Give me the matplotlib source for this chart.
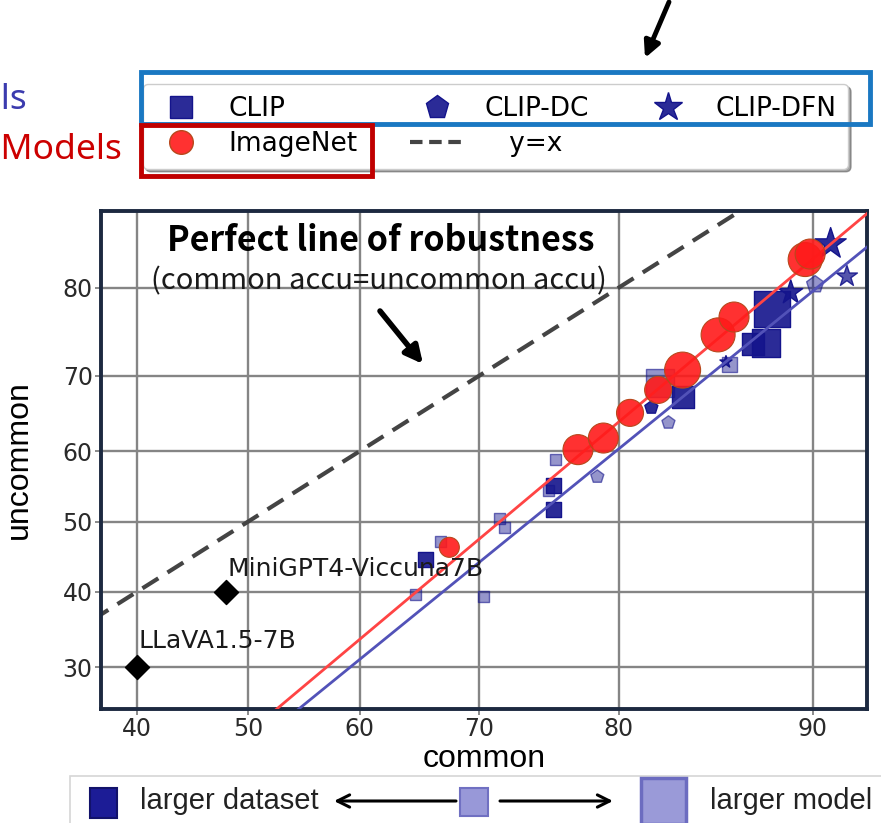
import math
import numpy as np
import matplotlib
matplotlib.use('Agg')
import matplotlib.pyplot as plt
from matplotlib.colors import to_rgba
from matplotlib.lines import Line2D
from matplotlib.patches import Rectangle

# accuracies (%) on common vs uncommon samples
llm_names = ['LLaVA1.5-7B', 'MiniGPT4-Viccuna7B']
llm_common = [40, 48]
llm_uncommon = [30, 40]

clip_common = [65.6, 66.9, 64.8, 70.3, 71.6, 72.0, 75.7, 75.6, 75.6, 75.2, 82.5, 83.8, 86.3, 87.4, 88.0, 88.3]
clip_uncommon = [44.5, 47.1, 39.6, 39.3, 50.5, 49.2, 58.8, 55.2, 51.7, 54.5, 69.1, 67.3, 71.4, 73.9, 74.0, 77.8]
clip_model = [2, 1, 1, 1, 1, 1, 1, 2, 2, 1, 4, 3, 2, 3, 4, 5]
clip_data = [2, 0, 0, 0, 0, 0, 0, 2, 2, 0, 0, 2, 0, 2, 2, 2]

dc_common = [78.6, 82.0, 83.0, 90.1]
dc_uncommon = [56.4, 65.9, 63.9, 80.3]
dc_model = [1, 1, 1, 2]
dc_data = [0, 2, 0, 0]

dfn_common = [90.7, 91.3, 89.1, 86.1]
dfn_uncommon = [84.1, 81.1, 79.5, 71.7]
dfn_model = [4, 2, 3, 1]
dfn_data = [2, 1, 2, 2]

inet_common = [67.6, 77.3, 79.0, 80.7, 82.4, 83.8, 85.7, 86.5, 89.7, 89.9]
inet_uncommon = [46.3, 60.2, 61.8, 65.2, 68.2, 70.7, 74.9, 76.9, 82.7, 83.2]
inet_model = [1, 3, 3, 2, 2, 5, 4, 3, 4, 3]

# linear fits in probit space: (slope, intercept)
inet_fit = (1.3295, -0.7603)
clip_fit = (1.2876, -0.822)

ticks = [40, 50, 60, 70, 80, 90]
yticks = [30, 40, 50, 60, 70, 80]

# probit axis transform
_z = np.linspace(-6, 6, 6001)
_p = np.array([0.5 * (1 + math.erf(v / math.sqrt(2))) for v in _z])


def probit(pct):
    return np.interp(np.asarray(pct, dtype=float) / 100.0, _p, _z)


def inv_probit(z):
    return 100.0 * np.interp(np.asarray(z, dtype=float), _z, _p)


NAVY = '#14148c'
RED = '#ff1a1a'
shade = {0: 0.45, 1: 0.72, 2: 0.9}
square_px = {1: 11, 2: 15, 3: 22, 4: 28, 5: 36}
pent_px = {1: 13, 2: 17}
star_px = {1: 12, 2: 21, 3: 24, 4: 31}
circle_px = {1: 20, 2: 27, 3: 30, 4: 34, 5: 36}


def area(levels, table, k=1.0):
    return [(table[v] * 0.72 / k) ** 2 for v in levels]


def navy(levels):
    face = [to_rgba(NAVY, shade[v]) for v in levels]
    edge = [to_rgba(NAVY, min(1.0, shade[v] + 0.15)) for v in levels]
    return face, edge


fig = plt.figure(figsize=(8.81, 8.23), dpi=100)
ax = fig.add_axes([101 / 881, 1 - 709 / 823, 766 / 881, 498 / 823])
ax.set_xscale('function', functions=(probit, inv_probit))
ax.set_yscale('function', functions=(probit, inv_probit))
ax.set_xlim(36.9, 92.0)
ax.set_ylim(25.0, 86.8)
ax.set_xticks(ticks)
ax.set_yticks(yticks)
ax.set_xticks([], minor=True)
ax.set_yticks([], minor=True)
ax.tick_params(labelsize=17, length=4, width=1.2, color='#777777', labelcolor='#2a2a2a', pad=2)
ax.set_axisbelow(True)
ax.grid(True, color='#858585', lw=1.7)
for s in ax.spines.values():
    s.set_color('#1c2940')
    s.set_linewidth(2.8)

xs = np.linspace(30, 95, 200)
ax.plot(xs, xs, color='#444444', lw=3, ls=(0, (4.5, 2.6)), zorder=2.5)
ax.plot(xs, inv_probit(inet_fit[0] * probit(xs) + inet_fit[1]), color='#ff4444', lw=2, zorder=3)
ax.plot(xs, inv_probit(clip_fit[0] * probit(xs) + clip_fit[1]), color='#5252b8', lw=2, zorder=3)

fc, ec = navy(clip_data)
ax.scatter(clip_common, clip_uncommon, s=area(clip_model, square_px), marker='s', c=fc, edgecolors=ec, lw=1, zorder=2)
fc, ec = navy(dc_data)
ax.scatter(dc_common, dc_uncommon, s=area(dc_model, pent_px, 0.95), marker='p', c=fc, edgecolors=ec, lw=1, zorder=2.2)
fc, ec = navy(dfn_data)
ax.scatter(dfn_common, dfn_uncommon, s=area(dfn_model, star_px, 0.95), marker='*', c=fc, edgecolors=ec, lw=1, zorder=2.3)
ax.scatter(inet_common, inet_uncommon, s=area(inet_model, circle_px), marker='o', c=[to_rgba(RED, 0.9)],
           edgecolors='#b8481c', lw=0.8, zorder=4)

ax.scatter(llm_common, llm_uncommon, s=150, marker='D', c='black', zorder=5)
for name, x, y, dy in zip(llm_names, llm_common, llm_uncommon, [10, 8]):
    ax.annotate(name, (x, y), xytext=(1, dy), textcoords='offset points', fontsize=18, color='#1a1a1a',
                ha='left', va='bottom', zorder=6)

ax.set_xlabel('common', fontsize=23, family='Liberation Sans')
ax.set_ylabel('uncommon', fontsize=23, family='Liberation Sans')
ax.xaxis.set_label_coords(0.5, -0.07)
ax.yaxis.set_label_coords(-0.087, 0.5)

# model legend
handles = [
    Line2D([], [], ls='none', marker='s', ms=16, mfc=to_rgba(NAVY, 0.9), mec=NAVY),
    Line2D([], [], ls='none', marker='o', ms=17, mfc=to_rgba(RED, 0.9), mec='#b8481c'),
    Line2D([], [], ls='none', marker='p', ms=17, mfc=to_rgba(NAVY, 0.9), mec=NAVY),
    Line2D([], [], color='#444444', lw=3, ls=(0, (3, 1.6))),
    Line2D([], [], ls='none', marker='*', ms=21, mfc=to_rgba(NAVY, 0.9), mec=NAVY),
]
labels = ['CLIP', 'ImageNet', 'CLIP-DC', '   y=x', 'CLIP-DFN']
fig.legend(handles, labels, ncol=3, loc='center', bbox_to_anchor=(495.5 / 881, 1 - 126.5 / 823),
           fontsize=19, fancybox=True, shadow=True, columnspacing=2.0, handletextpad=0.8,
           handlelength=2.0, borderpad=0.45, labelspacing=0.35, edgecolor='#cccccc')

# overlay in pixel coordinates for callouts and the size key
ov = fig.add_axes([0, 0, 1, 1])
ov.set_xlim(0, 881)
ov.set_ylim(823, 0)
ov.axis('off')
ov.set_zorder(10)

ov.text(27, 100, 'CLIP Models', ha='right', va='center', fontsize=25.5, family='Noto Sans', color='#3b3bae')
ov.text(122, 150, 'ImageNet Models', ha='right', va='center', fontsize=25.5, family='Noto Sans', color='#cc0000')
ov.add_patch(Rectangle((141, 72), 729, 52, fill=False, ec='#1a78c2', lw=3.5))
ov.add_patch(Rectangle((141, 125), 231, 51, fill=False, ec='#c00000', lw=3.5))
ov.annotate('', xy=(645, 58), xytext=(669, 2),
            arrowprops=dict(arrowstyle='-|>', color='black', lw=3.5, mutation_scale=24, shrinkA=0, shrinkB=0))

ov.text(381, 240, 'Perfect line of robustness', ha='center', va='center', fontsize=24.5, weight='bold',
        family=['Noto Sans CJK SC', 'DejaVu Sans'], color='black')
ov.text(379, 281, '(common accu=uncommon accu)', ha='center', va='center', fontsize=21, weight='light',
        family=['Noto Sans CJK SC', 'DejaVu Sans'], color='#1a1a1a')
ov.annotate('', xy=(423, 364), xytext=(380, 311),
            arrowprops=dict(arrowstyle='-|>', color='black', lw=4, mutation_scale=26, shrinkA=0, shrinkB=0))

# size key
ov.add_patch(Rectangle((70, 776), 830, 60, fc='white', ec='#d6d6d6', lw=1.2))
ov.add_patch(Rectangle((90, 788), 27, 30, fc='#1c1c96', ec='#12126a', lw=1.5))
ov.add_patch(Rectangle((460, 788), 28, 28, fc='#9898d8', ec='#7070c2', lw=1.5))
ov.add_patch(Rectangle((641, 778), 45, 46, fc='#9a9ad8', ec='#6c6cc0', lw=2.5))
ov.text(140, 801, 'larger dataset', ha='left', va='center', fontsize=21, family='Liberation Sans', color='#222222')
ov.text(710, 801, 'larger model', ha='left', va='center', fontsize=21, family='Liberation Sans', color='#222222')
ov.annotate('', xy=(334, 801), xytext=(456, 801),
            arrowprops=dict(arrowstyle='->', color='black', lw=2.2, mutation_scale=22, shrinkA=0, shrinkB=0))
ov.annotate('', xy=(613, 801), xytext=(500, 801),
            arrowprops=dict(arrowstyle='->', color='black', lw=2.2, mutation_scale=22, shrinkA=0, shrinkB=0))

fig.savefig('out.png', dpi=100)
